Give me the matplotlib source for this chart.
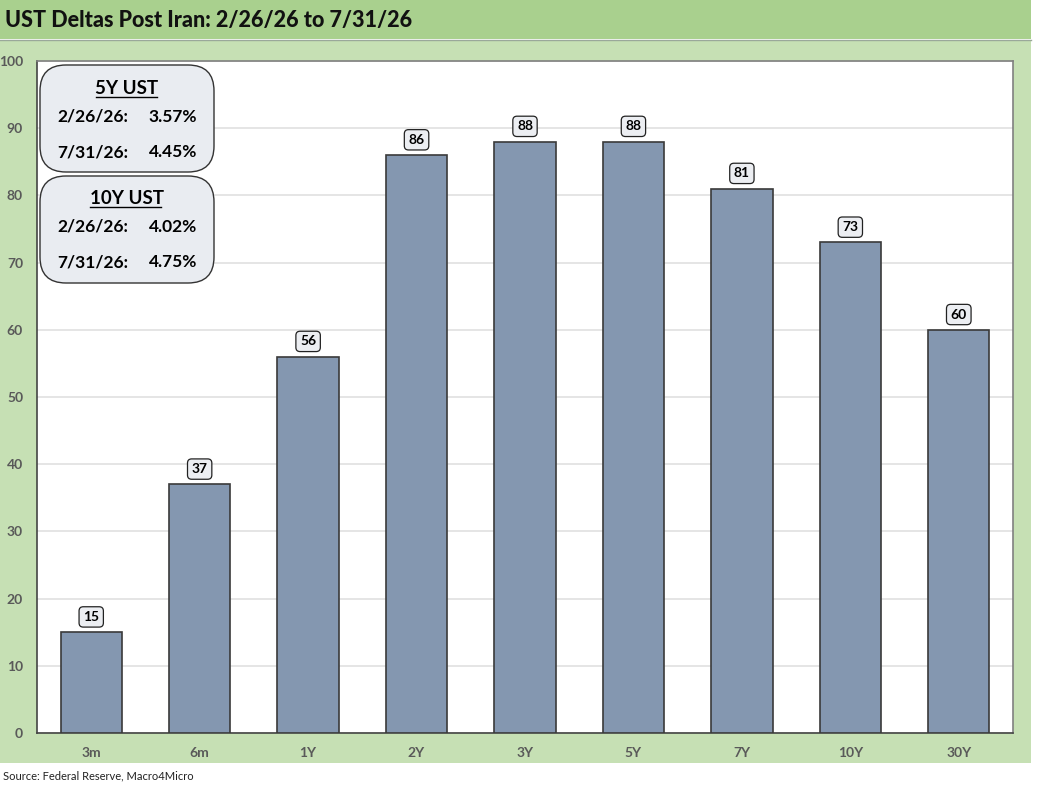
import matplotlib
matplotlib.use("Agg")
import matplotlib.pyplot as plt
from matplotlib.patches import Rectangle, FancyBboxPatch
from matplotlib.lines import Line2D

categories = ["3m", "6m", "1Y", "2Y", "3Y", "5Y", "7Y", "10Y", "30Y"]
deltas_bp = [15, 37, 56, 86, 88, 88, 81, 73, 60]
y_ticks = [0, 10, 20, 30, 40, 50, 60, 70, 80, 90, 100]
title = "UST Deltas Post Iran: 2/26/26 to 7/31/26"
source = "Source: Federal Reserve, Macro4Micro"
box1_title = "5Y UST"
box1_rows = [("2/26/26:", "3.57%"), ("7/31/26:", "4.45%")]
box2_title = "10Y UST"
box2_rows = [("2/26/26:", "4.02%"), ("7/31/26:", "4.75%")]

plt.rcParams['font.family'] = ['Lato', 'DejaVu Sans']

W, H = 1038, 790
fig = plt.figure(figsize=(W / 100, H / 100), dpi=100)
fig.patch.set_facecolor("white")

def fx(x):
    return x / W

def fy(y):
    return 1 - y / H

# Backgrounds
fig.patches.append(Rectangle((0, fy(763)), fx(1031), fy(40) - fy(763),
                             transform=fig.transFigure, facecolor="#c6e0b4",
                             edgecolor="none", zorder=0))
fig.patches.append(Rectangle((0, fy(39)), fx(1031), fy(0) - fy(39),
                             transform=fig.transFigure, facecolor="#a9d08e",
                             edgecolor="none", zorder=0))
fig.lines.append(Line2D([0, fx(1031)], [fy(39.5), fy(39.5)], transform=fig.transFigure,
                        color="#9aa89a", lw=1, zorder=1))
fig.text(fx(5), fy(21), title, fontsize=15.5, fontweight=900, color="#111111",
         va="center", ha="left", zorder=3)
fig.text(fx(3), fy(776), source, fontsize=8, color="#222222", va="center", ha="left")

ax = fig.add_axes([fx(37), fy(733), fx(1013) - fx(37), fy(61) - fy(733)])
ax.set_zorder(2)
ax.set_facecolor("white")
x = list(range(len(categories)))
bars = ax.bar(x, deltas_bp, width=0.565, color="#8497b0", edgecolor="#3a3a3a",
              linewidth=1.2, zorder=3)
ax.set_xlim(-0.5, len(categories) - 0.5)
ax.set_ylim(0, 100)
ax.set_yticks(y_ticks)
ax.yaxis.grid(True, color="#e0e0e0", lw=1.2, zorder=0)
ax.set_axisbelow(True)
ax.set_xticks(x)
ax.set_xticklabels(categories)
ax.tick_params(axis="both", length=0, colors="#595959", labelsize=10)
for lab in ax.get_xticklabels() + ax.get_yticklabels():
    lab.set_fontweight("bold")
ax.tick_params(axis="x", pad=10)
ax.tick_params(axis="y", pad=10)
for side in ["left", "bottom"]:
    ax.spines[side].set_color("#444444")
    ax.spines[side].set_linewidth(1.2)
for side in ["top", "right"]:
    ax.spines[side].set_color("#808080")
    ax.spines[side].set_linewidth(1.2)

for xi, v in zip(x, deltas_bp):
    ax.annotate(str(v), (xi, v), xytext=(0, 11), textcoords="offset points",
                ha="center", va="center", fontsize=10, fontweight="bold", color="black",
                bbox=dict(boxstyle="round,pad=0.3,rounding_size=0.3",
                          facecolor="#eceef2", edgecolor="#222222", lw=0.9),
                zorder=5)

# Info boxes
def info_box(top, bottom, head, rows, head_y, row_ys, ul_x):
    fig.patches.append(FancyBboxPatch((fx(40), fy(bottom)), fx(214) - fx(40),
                                      fy(top) - fy(bottom),
                                      boxstyle="round,pad=0,rounding_size=0.025",
                                      transform=fig.transFigure, facecolor="#e9ecf1",
                                      edgecolor="#333333", lw=1.0, zorder=6,
                                      mutation_aspect=W / H))
    fig.text(fx(127), fy(head_y), head, fontsize=13.5, fontweight="bold",
             ha="center", va="center", zorder=7)
    fig.lines.append(Line2D([fx(ul_x[0]), fx(ul_x[1])], [fy(head_y + 9), fy(head_y + 9)],
                            transform=fig.transFigure, color="black", lw=1.0, zorder=7))
    for (d, val), yy in zip(rows, row_ys):
        fig.text(fx(128), fy(yy), d, fontsize=12.5, fontweight="bold",
                 ha="right", va="center", zorder=7)
        fig.text(fx(197), fy(yy), val, fontsize=12.5, fontweight="bold",
                 ha="right", va="center", zorder=7)

info_box(65, 172, box1_title, box1_rows, 88, [117, 152], (96, 157))
info_box(176, 283, box2_title, box2_rows, 198, [227, 262], (90, 161))

fig.savefig("out.png", dpi=100, facecolor=fig.get_facecolor())
